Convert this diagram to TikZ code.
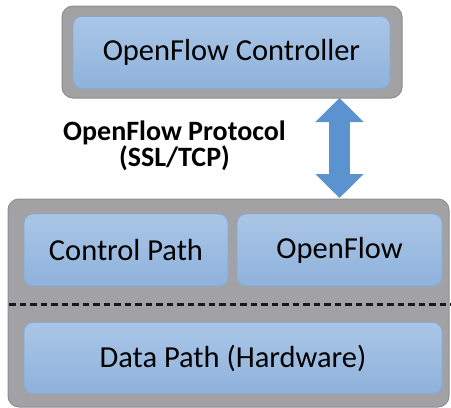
\documentclass[tikz,border=0pt]{standalone}
\usepackage{fontspec}
\setmainfont{Carlito}
\usetikzlibrary{arrows.meta}
\definecolor{shell}{HTML}{A2A2A4}
\definecolor{shelledge}{HTML}{8E8E90}
\definecolor{paneltop}{HTML}{AAC6E6}
\definecolor{panelbot}{HTML}{8FB2DB}
\definecolor{paneledge}{HTML}{84AAD8}
\definecolor{link}{HTML}{5A93CF}
\begin{document}
\begin{tikzpicture}[x=1pt,y=-1pt,
  shellbox/.style={draw=shelledge, line width=1pt, fill=shell,
    rounded corners=11pt, inner sep=0pt},
  panel/.style={draw=paneledge, line width=0.8pt, top color=paneltop,
    bottom color=panelbot, rounded corners=9pt, inner sep=0pt,
    font=\fontsize{30.5}{36}\selectfont},
  channel/.style={link, line width=21pt,
    {Triangle[width=47pt,length=24pt]}-{Triangle[width=47pt,length=24pt]}}]
\useasboundingbox (0,0) rectangle (451,408);

% controller
\node[shellbox, minimum width=340pt, minimum height=92pt] (ctl) at (232,52) {};
\node[panel, minimum width=317pt, minimum height=72pt] (ctlp) at (231.5,52.5) {OpenFlow Controller};

% switch
\node[shellbox, minimum width=441pt, minimum height=208pt] (sw) at (228.5,303) {};
\node[panel, minimum width=204pt, minimum height=72pt] (cp) at (126,250) {Control Path};
\node[panel, minimum width=205pt, minimum height=72pt] (of) at (339.5,250) {OpenFlow};
\node[panel, minimum width=418pt, minimum height=71pt] (dp) at (233,358) {Data Path (Hardware)};

% separator between control and data plane
\coordinate (sepl) at (9,304);
\coordinate (sepr) at (451,304);
\draw[line width=3pt, black!90, dash pattern=on 6.5pt off 4pt] (sepl) -- (sepr);

% secure channel
\coordinate (chtop) at (339.5,98);
\coordinate (chbot) at (339.5,198);
\draw[channel] (chtop) -- (chbot);
\node[font=\bfseries\fontsize{28}{24}\selectfont, align=center] (proto) at (174.5,146)
  {OpenFlow Protocol\\(SSL/TCP)};
\end{tikzpicture}
\end{document}
